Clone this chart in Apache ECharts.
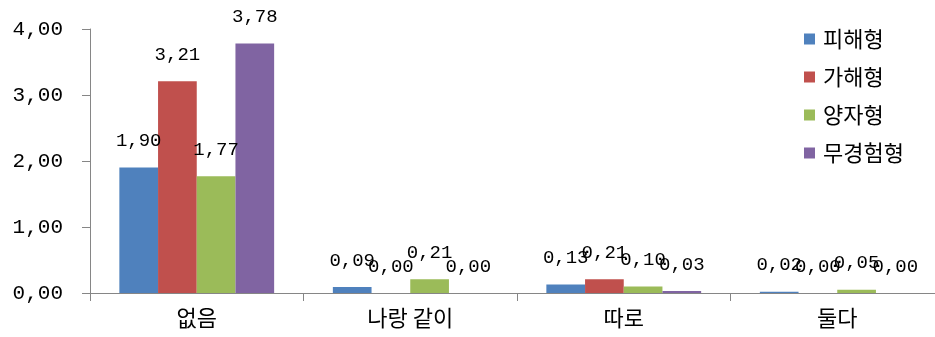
<!DOCTYPE html>
<html>
<head>
<meta charset="utf-8">
<script src="https://cdn.jsdelivr.net/npm/echarts@6/dist/echarts.min.js"></script>
<style>
  html, body { margin: 0; padding: 0; background: #fff; overflow: hidden; }
  #chart { width: 944px; height: 337px; }
</style>
</head>
<body>
<div id="chart"></div>
<script>
// Response categories and the mean score of each group
const categories = ['없음', '나랑 같이', '따로', '둘다'];
const seriesNames = ['피해형', '가해형', '양자형', '무경험형'];
const victim = [1.90, 0.09, 0.13, 0.02];
const offender = [3.21, 0.00, 0.21, 0.00];
const both = [1.77, 0.21, 0.10, 0.05];
const none = [3.78, 0.00, 0.03, 0.00];
const yTicks = [0, 1, 2, 3, 4];

const colors = ['#4F81BD', '#C0504D', '#9BBB59', '#8064A2'];
const numFont = '"Liberation Mono", "DejaVu Sans Mono", monospace';
const korFont = '"Noto Sans CJK KR", sans-serif';
const fmt = v => Number(v).toFixed(2).replace('.', ',');

const values = [victim, offender, both, none];

const chart = echarts.init(document.getElementById('chart'), null, { renderer: 'canvas' });
chart.setOption({
  animation: false,
  backgroundColor: '#ffffff',
  color: colors,
  grid: { left: 90, right: 0, top: 29, bottom: 44 },
  legend: {
    orient: 'vertical',
    left: 799,
    top: 23,
    itemWidth: 11,
    itemHeight: 11,
    itemGap: 16,
    icon: 'rect',
    textStyle: {
      fontFamily: korFont, fontSize: 22, lineHeight: 22, color: '#000',
      padding: [0, 0, 0, 3]
    },
    data: seriesNames
  },
  xAxis: {
    type: 'category',
    data: categories,
    axisLine: { lineStyle: { color: '#868686', width: 1 } },
    axisTick: { show: true, length: 8, lineStyle: { color: '#868686' } },
    axisLabel: { fontFamily: korFont, fontSize: 22, color: '#000', margin: 14 }
  },
  yAxis: {
    type: 'value',
    min: yTicks[0],
    max: yTicks[yTicks.length - 1],
    interval: 1,
    axisLine: { show: true, lineStyle: { color: '#868686', width: 1 } },
    axisTick: { show: true, length: 8, lineStyle: { color: '#868686' } },
    splitLine: { show: false },
    axisLabel: {
      fontFamily: numFont, fontSize: 21, color: '#000', margin: 27,
      formatter: fmt
    }
  },
  series: seriesNames.map((name, i) => ({
    name: name,
    type: 'bar',
    data: values[i],
    barGap: '0%',
    barCategoryGap: '27.5%',
    itemStyle: { color: colors[i] },
    label: {
      show: true,
      position: 'top',
      distance: 17,
      fontFamily: numFont,
      fontSize: 19,
      color: '#000',
      formatter: p => fmt(p.value)
    }
  }))
});
</script>
</body>
</html>
